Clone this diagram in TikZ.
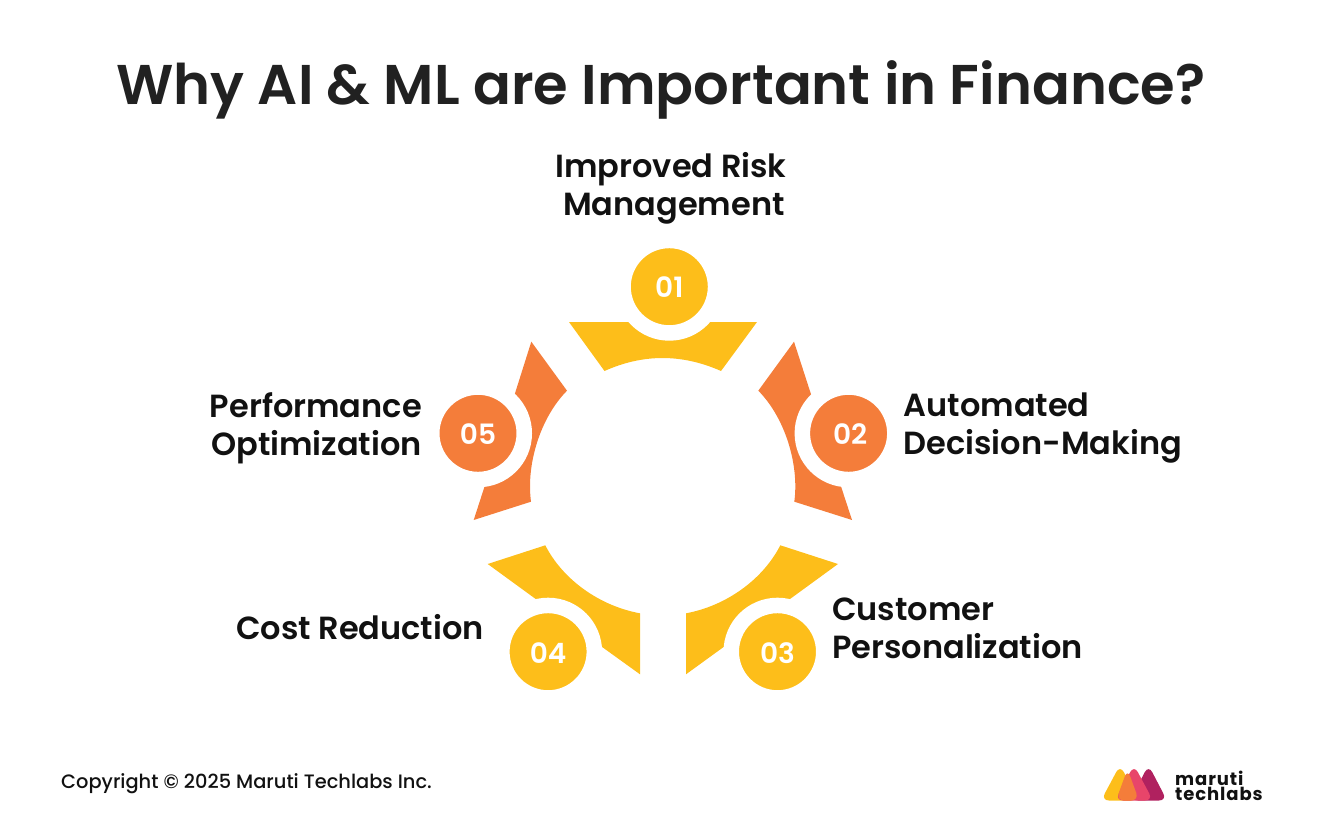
\documentclass[tikz,border=0pt]{standalone}
\usepackage{fontspec}
\setmainfont{Poppins}
\newfontfamily\popsemi{Poppins SemiBold}
\newfontfamily\popmed{Poppins Medium}
\definecolor{amber}{HTML}{FDBE1A}
\definecolor{tangerine}{HTML}{F47D3A}
\definecolor{berry}{HTML}{B0215F}
\definecolor{rose}{HTML}{E8456A}
\definecolor{ink}{HTML}{111111}
\tikzset{
	badge/.style={circle, draw=white, line width=15.5pt, minimum size=92.5pt, inner sep=0pt, outer sep=0pt, text=white, text height=22.6pt, text depth=0pt, font=\popsemi\fontsize{28}{28}\selectfont},
	lbl/.style={inner sep=0pt, text=ink, font=\popsemi\fontsize{32}{38}\selectfont},
	blob/.style={rounded corners=8pt}
}
\begin{document}
\begin{tikzpicture}[x=1pt, y=-1pt]
	\useasboundingbox (0,0) rectangle (1322,826);
	\node (title) [inner sep=0pt, text=black!87, font=\popsemi\fontsize{56}{60}\selectfont] at (661,90) {Why AI \& ML are Important in Finance?};
	\fill[amber] (569,322) -- (757,322) -- (721,371) .. controls (682,353.7) and (643,353.7) .. (604.5,371) -- cycle;
	\fill[tangerine] (531.3,341.7) -- (567,390.7) .. controls (540,418) and (526,465) .. (531,501.7) -- (473.7,520) -- (484.3,487.3) -- (514.7,394.3) -- cycle;
	\fill[tangerine] (794,341.7) -- (758.3,390.7) .. controls (785.3,418) and (799.3,465) .. (794.3,501.7) -- (852,520) -- (841.3,487.3) -- (811,394.3) -- cycle;
	\fill[amber] (487.7,564) -- (545.3,545.3) .. controls (563,580) and (600,606) .. (640,613.3) -- (640,674.3) -- (601.7,646.7) -- (535.7,599) -- cycle;
	\fill[amber] (838,564) -- (780.3,545.3) .. controls (762.6,580) and (725.6,606) .. (686,613.3) -- (686,674.3) -- (724,646.7) -- (790,599) -- cycle;
	\node (n01) [badge, fill=amber] at (669.3,286.7) {01};
	\node (n02) [badge, fill=tangerine] at (848.6,433.3) {\hspace*{3pt}02};
	\node (n03) [badge, fill=amber] at (777.5,651.7) {03};
	\node (n04) [badge, fill=amber] at (548.1,651.7) {04};
	\node (n05) [badge, fill=tangerine] at (478,433.3) {05};
	\node (l01) [lbl, align=center] at (671,188) {Improved Risk\\\hspace*{6pt}Management};
	\node (l02) [lbl, align=left, anchor=west] at (903.5,428.5) {Automated\\Decision-Making};
	\node (l03) [lbl, align=left, anchor=west] at (832,628.5) {Customer\\Personalization};
	\node (l04) [lbl, anchor=east] at (484,627) {Cost Reduction};
	\node (l05) [lbl, align=right, anchor=east] at (422,428.5) {Performance\\Optimization};
	\node (copy) [inner sep=0pt, anchor=west, text=ink, font=\popmed\fontsize{19.4}{22}\selectfont] at (61,784) {Copyright © 2025 Maruti Techlabs Inc.};
	\fill[amber, blob] (1120,765) -- (1101,800.5) -- (1139,800.5) -- cycle;
	\fill[berry, blob] (1148.5,765) -- (1130,800.5) -- (1167,800.5) -- cycle;
	\fill[rose, blob] (1134,765) -- (1115,800.5) -- (1153,800.5) -- cycle;
	\fill[tangerine, blob] (1127.5,769) -- (1116,800.5) -- (1139,800.5) -- cycle;
	\node (mark) [inner sep=0pt, anchor=west, align=left, text=ink, font=\bfseries\addfontfeature{LetterSpace=5}\fontsize{18}{15.5}\selectfont] at (1175,786) {maruti\\techlabs};
\end{tikzpicture}
\end{document}
